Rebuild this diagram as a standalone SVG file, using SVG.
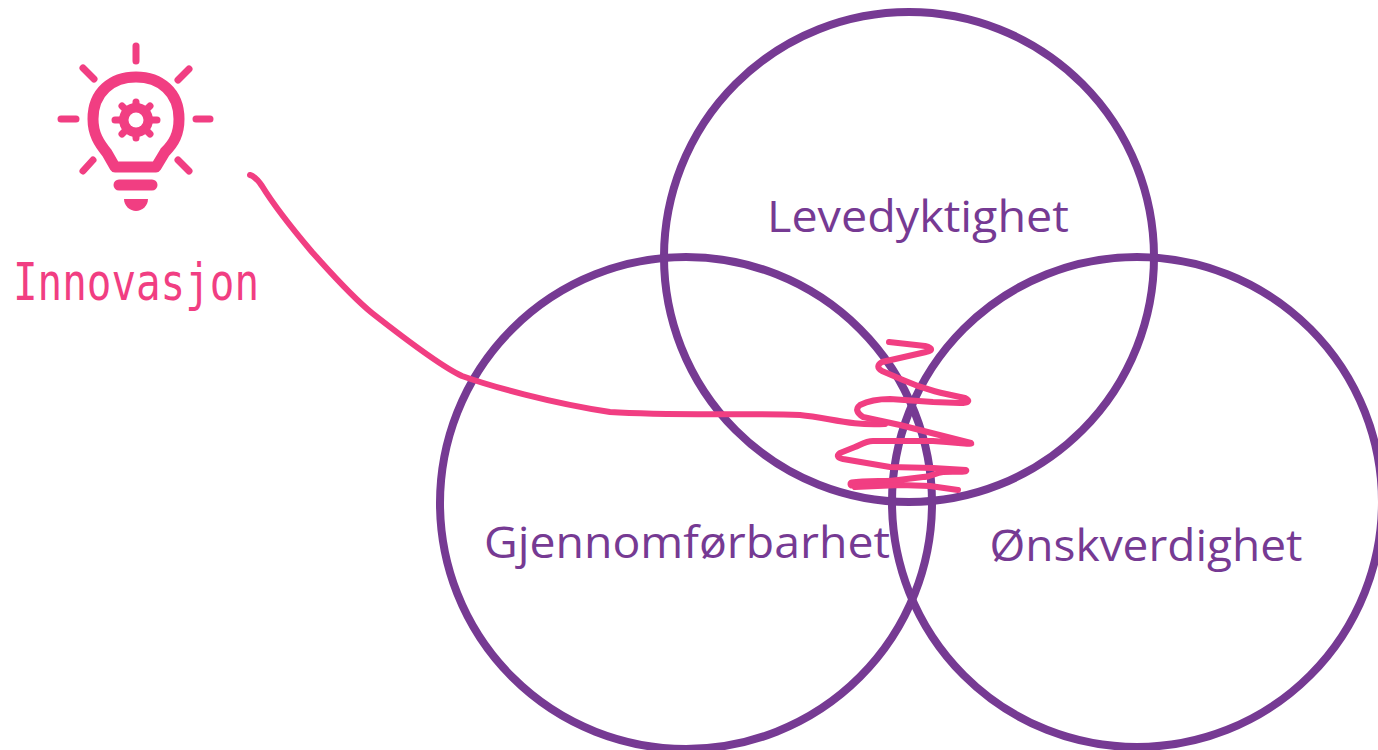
<svg xmlns="http://www.w3.org/2000/svg" width="1378" height="750" viewBox="0 0 1378 750">
<style>
.c{fill:none;stroke:#763a93;stroke-width:8}
.l{font-family:"Open Sans","Noto Sans",sans-serif;font-size:44px;fill:#763a93;text-anchor:middle}
.p{fill:none;stroke:#f13e82;stroke-linecap:round;stroke-linejoin:round}
.f{fill:#f13e82}
</style>
<rect width="1378" height="750" fill="#fff"/>
<g id="circle-levedyktighet"><circle class="c" cx="909" cy="257" r="245"/><text class="l" x="918" y="232" textLength="302" lengthAdjust="spacingAndGlyphs">Levedyktighet</text></g>
<g id="circle-gjennomforbarhet"><circle class="c" cx="686" cy="503" r="246"/><text class="l" x="687" y="558" textLength="406" lengthAdjust="spacingAndGlyphs">Gjennomførbarhet</text></g>
<g id="circle-onskverdighet"><circle class="c" cx="1137" cy="502" r="245"/><text class="l" x="1146" y="561" textLength="313" lengthAdjust="spacingAndGlyphs">Ønskverdighet</text></g>
<g id="innovasjon">
<g class="p" stroke-width="7">
<path d="M136 46V61"/><path d="M83 68L94 79M189 69L178 80M61 119H76M196 119H210M83 171L93 160M189 171L178 160"/>
</g>
<path class="p" stroke-width="11" d="M115 167L107 153C99 143 93 134 93 119C93 92 112 77 136 77C160 77 179 92 179 119C179 134 174 143 165 152L156 167Z"/>
<path class="p" stroke-width="11" d="M119 185H152"/>
<path class="f" d="M124 199H148C148 206 142 211 136 211C130 211 124 206 124 199Z"/>
<path class="p" d="M136 102V138M115 120H157M122 106L150 134M150 106L122 134" stroke-width="7"/>
<circle class="f" cx="136" cy="120" r="17"/>
<circle cx="136" cy="120" r="7.5" fill="#fff"/>
<text x="13" y="300" font-family="'DejaVu Sans Mono',monospace" font-size="52" fill="#f13e82" textLength="246" lengthAdjust="spacingAndGlyphs">Innovasjon</text>
</g>
<g id="connectors">
<path class="p" stroke-width="6" d="M250 175C254 176 258 180 262 186C270 199 290 226 312 252C332 274 350 295 372 313C400 335 440 366 462 376C490 386 550 403 610 412C670 416 740 413 800 415C830 418 850 426 885 424"/>
<path class="p" stroke-width="6" d="M889 342L925 346C933 348 933 351 926 352L882 362C877 365 877 368 882 371L903 380C925 390 945 394 965 398C971 401 968 403 960 403L933 402L890 399C875 399 868 401 860 405C855 409 857 413 863 417L900 425L971 443C973 445 965 443 933 441H873C866 441 860 445 855 447L840 453C836 456 838 458 843 459L890 467L933 468L966 470C968 473 955 471 943 472C935 473 930 477 923 477L890 481"/>
<path class="p" stroke-width="9" d="M852 484C865 482 880 483 900 482"/>
<path class="p" stroke-width="6" d="M855 487L900 485L930 486L958 490"/>
</g>
</svg>
